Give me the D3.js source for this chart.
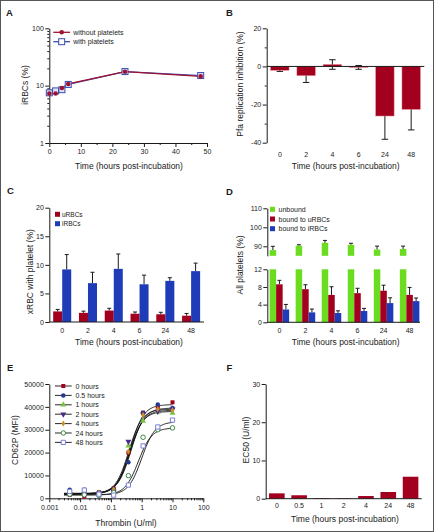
<!DOCTYPE html>
<html><head><meta charset="utf-8">
<script src="https://cdn.jsdelivr.net/npm/d3@7"></script>
<style>
html,body{margin:0;padding:0;background:#fff;}
svg{display:block;}
text{font-family:"Liberation Sans",Arial,Helvetica,sans-serif;fill:#1a1a1a;}
</style></head><body>
<svg id="c" width="434" height="532"></svg>
<script>
// ---------- data ----------
// Panel A
const timesA = [0, 2, 4, 6, 24, 48];
const iRBCwithout = [7.3, 7.3, 9.1, 10.7, 17.5, 14.5];
const iRBCwith = [7.5, 8.1, 8.5, 10.5, 17.6, 15.0];
const ticksAx = [0, 10, 20, 30, 40, 50];
const ticksAy = [1, 10, 100];
// Panel B
const catsTime = ["0", "2", "4", "6", "24", "48"];
const inhibition = [-2.0, -4.8, 1.0, -0.5, -26.0, -22.5];
const inhibitionErr = [0.6, 3.6, 2.5, 1.0, 12.2, 10.8];
const ticksB = [-40, -20, 0, 20];
// Panel C
const uRBCs = [1.85, 1.6, 2.0, 1.45, 1.35, 1.1];
const uRBCsErr = [0.35, 0.3, 0.4, 0.3, 0.35, 0.4];
const iRBCs = [9.2, 6.8, 9.3, 6.6, 7.2, 8.9];
const iRBCsErr = [2.6, 1.9, 2.6, 1.6, 0.55, 1.4];
const ticksC = [0, 5, 10, 15, 20];
// Panel D
const unbound = [88.0, 90.3, 91.8, 90.8, 88.3, 88.6];
const unboundErr = [2.0, 0.5, 1.3, 0.8, 1.8, 1.5];
const boundU = [8.6, 7.5, 6.2, 6.6, 7.15, 6.2];
const boundUErr = [0.9, 1.0, 1.85, 1.1, 1.25, 1.7];
const boundI = [2.9, 2.25, 2.1, 2.55, 4.35, 4.8];
const boundIErr = [1.15, 0.75, 0.5, 0.6, 1.2, 0.7];
const ticksDlow = [0, 4, 8, 12];
const ticksDhigh = [90, 100, 110];
// Panel E
const thrombin = [0.0046, 0.0137, 0.041, 0.123, 0.37, 1.11, 3.33, 10];
const seriesE = ["0 hours", "0.5 hours", "1 hours", "2 hours", "4 hours", "24 hours", "48 hours"];
const mfi0h  = [1500, 700, 2500, 4300, 20000, 37500, 40000, 42000];
const mfi05h = [3700, 3700, 2600, 4000, 15800, 37300, 41000, 39500];
const mfi1h  = [2600, 2200, 2000, 3400, 23000, 33800, 37700, 37300];
const mfi2h  = [2000, 1800, 2200, 3000, 24800, 36800, 38000, 39000];
const mfi4h  = [2200, 2000, 2400, 3800, 20500, 36400, 39000, 38500];
const mfi24h = [1800, 1500, 1200, 2500, 9900, 26700, 30000, 30800];
const mfi48h = [3000, 3600, 1800, 1400, 5800, 22900, 31200, 34200];
// sigmoidal (4PL) fit parameters
const fitBottom = [1800, 2200, 2000, 2000, 2000, 1500, 1500];
const fitTop    = [41000, 39500, 38000, 39000, 38500, 30800, 33500];
const fitEC50   = [0.42, 0.45, 0.40, 0.38, 0.42, 0.78, 1.0];
const fitHill   = [2.0, 2.0, 2.0, 2.0, 2.0, 2.0, 2.0];
const ticksEx = [0.001, 0.01, 0.1, 1, 10, 100];
const ticksEy = [0, 10000, 20000, 30000, 40000, 50000];
// Panel F
const catsF = ["0", "0.5", "1", "2", "4", "24", "48"];
const ec50 = [1.4, 0.9, 0.15, 0.1, 0.7, 1.75, 5.75];
const ticksF = [0, 10, 20, 30];

// ---------- styles ----------
const INK = "#1a1a1a";
const RED = "#a3001f";
const BLUE = "#1e3cb8";
const GREEN = "#6bdc1f";
const LRED = "#9e1232";
const LBLUE = "#3a4cae";

const svg = d3.select("#c");
svg.append("rect").attr("x", 0.5).attr("y", 0.5).attr("width", 433).attr("height", 531)
  .attr("fill", "#fff").attr("stroke", "#555").attr("stroke-width", 1);

function styleAxis(g) {
  g.attr("font-family", null).attr("font-size", 7);
  g.selectAll("path,line").attr("stroke", INK).attr("stroke-width", 1);
  g.selectAll("text").attr("fill", INK);
}
function axisLeft(x, scale, major, minor, fmt) {
  const g = svg.append("g").attr("transform", `translate(${x},0)`)
    .call(d3.axisLeft(scale).tickValues(major).tickSize(4).tickSizeOuter(0).tickPadding(1.5)
      .tickFormat(fmt || (d => String(d))));
  styleAxis(g);
  if (minor) {
    const m = svg.append("g").attr("transform", `translate(${x},0)`)
      .call(d3.axisLeft(scale).tickValues(minor).tickSize(2).tickFormat(() => ""));
    m.select(".domain").remove();
    styleAxis(m);
  }
  return g;
}
function axisBottom(y, scale, major, minor, fmt) {
  const g = svg.append("g").attr("transform", `translate(0,${y})`)
    .call(d3.axisBottom(scale).tickValues(major).tickSize(4).tickSizeOuter(0).tickPadding(2.5)
      .tickFormat(fmt || (d => String(d))));
  styleAxis(g);
  if (minor) {
    const m = svg.append("g").attr("transform", `translate(0,${y})`)
      .call(d3.axisBottom(scale).tickValues(minor).tickSize(2).tickFormat(() => ""));
    m.select(".domain").remove();
    styleAxis(m);
  }
  return g;
}
function hline(x0, x1, y) {
  svg.append("line").attr("x1", x0).attr("x2", x1).attr("y1", y).attr("y2", y)
    .attr("stroke", INK).attr("stroke-width", 1);
}
function title(cx, cy, s, size) {
  svg.append("text").attr("x", cx).attr("y", cy + 3).attr("text-anchor", "middle")
    .attr("font-size", size || 8.5).text(s);
}
function yLabel(cx, cy, s, size) {
  svg.append("text").attr("transform", `translate(${cx + 3},${cy}) rotate(-90)`)
    .attr("text-anchor", "middle").attr("font-size", size || 8.5).text(s);
}
function letter(x, y, s) {
  svg.append("text").attr("x", x).attr("y", y).attr("font-size", 9.5)
    .attr("font-weight", "bold").text(s);
}
function catLabels(scale, cats, y) {
  cats.forEach(c => svg.append("text").attr("x", scale(c) + scale.bandwidth() / 2)
    .attr("y", y + 2.5).attr("text-anchor", "middle").attr("font-size", 7).text(c));
}
function errBar(x, yFrom, yTo, cap) {
  svg.append("line").attr("x1", x).attr("x2", x).attr("y1", yFrom).attr("y2", yTo)
    .attr("stroke", INK).attr("stroke-width", 1);
  svg.append("line").attr("x1", x - cap / 2).attr("x2", x + cap / 2).attr("y1", yTo).attr("y2", yTo)
    .attr("stroke", INK).attr("stroke-width", 1);
}

// ---------- Panel A ----------
letter(6, 16, "A");
const xA = d3.scaleLinear().domain([0, 50]).range([49.3, 207]);
const yA = d3.scaleLog().domain([1, 100]).range([143, 28.3]);
const minorA = [2,3,4,5,6,7,8,9,20,30,40,50,60,70,80,90];
axisLeft(49.3, yA, ticksAy, minorA, d3.format("d"));
axisBottom(143, xA, ticksAx, [5, 15, 25, 35, 45]);
const idxA = d3.range(timesA.length);
svg.append("path").attr("fill", "none").attr("stroke", LBLUE).attr("stroke-width", 1.3)
  .attr("d", d3.line().x(i => xA(timesA[i])).y(i => yA(iRBCwith[i]))(idxA));
svg.append("path").attr("fill", "none").attr("stroke", LRED).attr("stroke-width", 1.3)
  .attr("d", d3.line().x(i => xA(timesA[i])).y(i => yA(iRBCwithout[i]))(idxA));
idxA.forEach(i => {
  svg.append("rect").attr("x", xA(timesA[i]) - 3).attr("y", yA(iRBCwith[i]) - 3)
    .attr("width", 6).attr("height", 6).attr("fill", "#dfe3f7").attr("stroke", LBLUE).attr("stroke-width", 1);
});
idxA.forEach(i => {
  svg.append("circle").attr("cx", xA(timesA[i])).attr("cy", yA(iRBCwithout[i])).attr("r", 2.3).attr("fill", LRED);
});
// legend A
[["without platelets", LRED, "c", 32.3], ["with platelets", LBLUE, "s", 41.7]].forEach(([t, col, m, y]) => {
  svg.append("line").attr("x1", 53.3).attr("x2", 70).attr("y1", y).attr("y2", y).attr("stroke", col).attr("stroke-width", 1.3);
  if (m === "c") svg.append("circle").attr("cx", 61.7).attr("cy", y).attr("r", 2.3).attr("fill", col);
  else svg.append("rect").attr("x", 58.7).attr("y", y - 3).attr("width", 6).attr("height", 6)
    .attr("fill", "#fff").attr("stroke", col).attr("stroke-width", 1);
  svg.append("text").attr("x", 73.3).attr("y", y + 2.5).attr("font-size", 7).text(t);
});
yLabel(25, 85, "iRBCs (%)");
title(129, 165.7, "Time (hours post-incubation)");

// ---------- Panel B ----------
letter(226, 16, "B");
const xB = d3.scaleBand().domain(catsTime).range([266.7, 424.3]).paddingInner(0.3).paddingOuter(0.15);
const yB = d3.scaleLinear().domain([-40, 20]).range([142.7, 28.3]);
axisLeft(266.7, yB, ticksB, [-30, -10, 10]);
catsTime.forEach((c, i) => {
  const cx = xB(c) + xB.bandwidth() / 2;
  errBar(cx, yB(inhibition[i] - inhibitionErr[i]), yB(inhibition[i] + inhibitionErr[i]), 6.5);
  svg.append("line").attr("x1", cx - 3.25).attr("x2", cx + 3.25)
    .attr("y1", yB(inhibition[i] - inhibitionErr[i])).attr("y2", yB(inhibition[i] - inhibitionErr[i]))
    .attr("stroke", INK);
});
catsTime.forEach((c, i) => {
  const v = inhibition[i];
  svg.append("rect").attr("x", xB(c)).attr("width", xB.bandwidth())
    .attr("y", yB(Math.max(0, v))).attr("height", Math.abs(yB(v) - yB(0)))
    .attr("fill", RED).attr("stroke", "#e07a86").attr("stroke-width", 0.5);
});
hline(266.7, 424.3, yB(0));
catLabels(xB, catsTime, 154);
yLabel(240, 84, "Pfa replication inhibition (%)");
title(345.7, 165.7, "Time (hours post-incubation)");

// ---------- Panel C ----------
letter(7, 194, "C");
const xC = d3.scaleBand().domain(catsTime).range([49.3, 204]).paddingInner(0.3).paddingOuter(0.15);
const xC1 = d3.scaleBand().domain(["u", "i"]).range([0, xC.bandwidth()]);
const yC = d3.scaleLinear().domain([0, 20]).range([322, 207.7]);
catsTime.forEach((c, i) => {
  [["u", uRBCs[i], uRBCsErr[i], RED], ["i", iRBCs[i], iRBCsErr[i], BLUE]].forEach(([k, v, e, col]) => {
    const x0 = xC(c) + xC1(k);
    errBar(x0 + xC1.bandwidth() / 2, yC(v), yC(v + e), 4);
    svg.append("rect").attr("x", x0).attr("width", xC1.bandwidth()).attr("y", yC(v))
      .attr("height", yC(0) - yC(v)).attr("fill", col);
  });
});
axisLeft(49.3, yC, ticksC, null);
hline(49.3, 204, 322);
catLabels(xC, catsTime, 330);
[["uRBCs", RED, 214.3], ["iRBCs", BLUE, 223.7]].forEach(([t, col, y]) => {
  svg.append("rect").attr("x", 55).attr("y", y - 2.5).attr("width", 5).attr("height", 5).attr("fill", col);
  svg.append("text").attr("x", 62).attr("y", y + 2.2).attr("font-size", 6.5).text(t);
});
yLabel(30, 271.7, "xRBC with platelet (%)");
title(129, 342.3, "Time (hours post-incubation)");

// ---------- Panel D ----------
letter(226, 195, "D");
const xD = d3.scaleBand().domain(catsTime).range([266.5, 422.5]).paddingInner(0.25).paddingOuter(0.12);
const xD1 = d3.scaleBand().domain(["g", "r", "b"]).range([0, xD.bandwidth()]);
const yDlo = d3.scaleLinear().domain([0, 12]).range([322.3, 269.3]);
const yDhi = d3.scaleLinear().domain([85, 110]).range([255.8, 208.3]);
catsTime.forEach((c, i) => {
  const xg = xD(c) + xD1("g"), w = xD1.bandwidth();
  // unbound: broken bar (lower segment clipped at 12, upper segment from 85)
  errBar(xg + w / 2, yDhi(unbound[i]), yDhi(unbound[i] + unboundErr[i]), 4);
  svg.append("rect").attr("x", xg).attr("width", w).attr("y", yDhi(unbound[i]))
    .attr("height", yDhi(85) - yDhi(unbound[i])).attr("fill", GREEN);
  svg.append("rect").attr("x", xg).attr("width", w).attr("y", yDlo(12))
    .attr("height", yDlo(0) - yDlo(12)).attr("fill", GREEN);
  [["r", boundU[i], boundUErr[i], RED], ["b", boundI[i], boundIErr[i], BLUE]].forEach(([k, v, e, col]) => {
    const x0 = xD(c) + xD1(k);
    errBar(x0 + w / 2, yDlo(v), yDlo(v + e), 4);
    svg.append("rect").attr("x", x0).attr("width", w).attr("y", yDlo(v))
      .attr("height", yDlo(0) - yDlo(v)).attr("fill", col);
  });
});
axisLeft(267.3, yDlo, ticksDlow, null);
axisLeft(267.3, yDhi, ticksDhigh, null);
hline(267.3, 420, 322.3);
catLabels(xD, catsTime, 330);
[["unbound", GREEN, 209.3], ["bound to uRBCs", RED, 219], ["bound to iRBCs", BLUE, 228.7]].forEach(([t, col, y]) => {
  svg.append("rect").attr("x", 270).attr("y", y - 2.5).attr("width", 5).attr("height", 5).attr("fill", col);
  svg.append("text").attr("x", 278.5).attr("y", y + 2.5).attr("font-size", 7).text(t);
});
yLabel(240, 265, "All platelets (%)");
title(345.7, 342.3, "Time (hours post-incubation)");

// ---------- Panel E ----------
letter(7, 371, "E");
const xE = d3.scaleLog().domain([0.001, 100]).range([49.3, 203.3]);
const yE = d3.scaleLinear().domain([0, 50000]).range([498.3, 384]);
const minorE = [];
[0.001, 0.01, 0.1, 1, 10].forEach(d => { for (let k = 2; k <= 9; k++) minorE.push(d * k); });
axisLeft(49.3, yE, ticksEy, null, d3.format("d"));
axisBottom(498.3, xE, ticksEx, minorE, d => String(d));
const dataE = [mfi0h, mfi05h, mfi1h, mfi2h, mfi4h, mfi24h, mfi48h];
const markE = [
  {sym: d3.symbolSquare, fill: "#a3001f", stroke: "none", rot: 0, size: 16},
  {sym: d3.symbolCircle, fill: "#1f3a93", stroke: "none", rot: 0, size: 16},
  {sym: d3.symbolTriangle, fill: "#7cc242", stroke: "none", rot: 0, size: 16},
  {sym: d3.symbolTriangle, fill: "#4a2c8c", stroke: "none", rot: 180, size: 16},
  {sym: d3.symbolDiamond, fill: "#c8902a", stroke: "none", rot: 0, size: 12},
  {sym: d3.symbolCircle, fill: "#fff", stroke: "#2e7d32", rot: 0, size: 16},
  {sym: d3.symbolSquare, fill: "#fff", stroke: "#6f73d2", rot: 0, size: 18}
];
function drawMark(m, x, y) {
  svg.append("path").attr("d", d3.symbol(m.sym, m.size)())
    .attr("transform", `translate(${x},${y}) rotate(${m.rot})`)
    .attr("fill", m.fill).attr("stroke", m.stroke).attr("stroke-width", 0.9);
}
// fitted curves
const curveX = d3.range(0, 121).map(k => Math.pow(10, Math.log10(0.003) + k * (Math.log10(10) - Math.log10(0.003)) / 120));
seriesE.forEach((s, j) => {
  const f = x => fitBottom[j] + (fitTop[j] - fitBottom[j]) / (1 + Math.pow(fitEC50[j] / x, fitHill[j]));
  svg.append("path").attr("fill", "none").attr("stroke", "#111").attr("stroke-width", 0.9)
    .attr("d", d3.line().x(x => xE(x)).y(x => yE(f(x)))(curveX));
});
seriesE.forEach((s, j) => {
  thrombin.forEach((t, i) => drawMark(markE[j], xE(t), yE(dataE[j][i])));
});
// legend E
seriesE.forEach((s, j) => {
  const y = 386 + j * 9.4;
  svg.append("line").attr("x1", 55).attr("x2", 71.7).attr("y1", y).attr("y2", y).attr("stroke", "#111").attr("stroke-width", 0.9);
  drawMark(markE[j], 63.3, y);
  svg.append("text").attr("x", 75.5).attr("y", y + 2.5).attr("font-size", 7).text(s);
});
yLabel(15, 440, "CD62P (MFI)");
title(126, 522.7, "Thrombin (U/ml)");

// ---------- Panel F ----------
letter(226.5, 371, "F");
const xF = d3.scaleBand().domain(catsF).range([265.7, 421.7]).paddingInner(0.3).paddingOuter(0.15);
const yF = d3.scaleLinear().domain([0, 30]).range([498.7, 384]);
catsF.forEach((c, i) => {
  svg.append("rect").attr("x", xF(c)).attr("width", xF.bandwidth()).attr("y", yF(ec50[i]))
    .attr("height", yF(0) - yF(ec50[i])).attr("fill", RED);
});
axisLeft(265.7, yF, ticksF, null);
hline(265.7, 421.7, 498.7);
catLabels(xF, catsF, 505.3);
yLabel(245.7, 440, "EC50 (U/ml)");
title(345, 519.3, "Time (hours post-incubation)");
</script>
</body></html>
